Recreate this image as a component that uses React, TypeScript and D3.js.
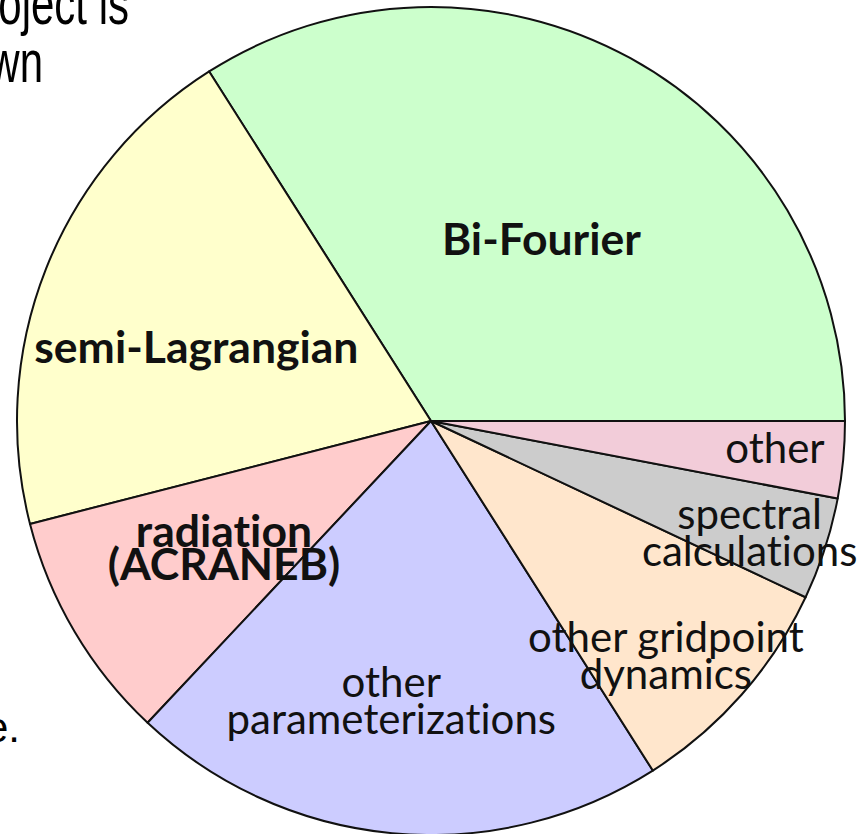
import React from "react";
import * as d3 from "d3";

// pie data: share of run time (percent), counter-clockwise from 3 o'clock
const categories = [
  "Bi-Fourier",
  "semi-Lagrangian",
  "radiation (ACRANEB)",
  "other parameterizations",
  "other gridpoint dynamics",
  "spectral calculations",
  "other",
];
const shares = [34, 20, 9, 21, 9, 4, 3];
const labelLines = [
  ["Bi-Fourier"],
  ["semi-Lagrangian"],
  ["radiation", "(ACRANEB)"],
  ["other", "parameterizations"],
  ["other gridpoint", "dynamics"],
  ["spectral", "calculations"],
  ["other"],
];
const boldLabel = [true, true, true, false, false, false, false];
const sliceColors = ["#ccffcc", "#ffffcc", "#ffcccc", "#ccccff", "#ffe6cc", "#cccccc", "#f2ccd9"];

// label placement: fraction of radius, and a small turn (deg) off the mid angle
const labelRadius = [0.506, 0.592, 0.591, 0.689, 0.808, 0.818, 0.834];
const labelTurn = [3, -4.8, -1.6, 2.6, 4, 1.8, -0.4];

// fragments of the slide text behind the chart
const slideLines = ["oject is", "wn"];
const slideTail = "e.";

const W = 861;
const H = 834;
const cx = 431;
const cy = 421;
const R = 414;

export default function App() {
  const pie = d3
    .pie<number>()
    .sort(null)
    .value((d) => d)
    .startAngle(Math.PI / 2)
    .endAngle(Math.PI / 2 - 2 * Math.PI);
  const arcs = pie(shares);
  const arc = d3.arc<d3.PieArcDatum<number>>().innerRadius(0).outerRadius(R);

  return (
    <div style={{ position: "absolute", left: 0, top: 0, width: W, height: H, background: "#fff" }}>
      <svg width={W} height={H} style={{ display: "block" }}>
        <g fontFamily="'Liberation Sans', Arial, sans-serif" fontSize={42} fill="#000" textAnchor="end">
          {slideLines.map((t, i) => (
            <text
              key={t}
              transform={`translate(${i === 0 ? 129 : 43},${24 + i * 58}) scale(1,1.42)`}
            >
              {t}
            </text>
          ))}
          <text x={20} y={742}>
            {slideTail}
          </text>
        </g>
        <g transform={`translate(${cx},${cy})`}>
          {arcs.map((a, i) => (
            <path
              key={categories[i]}
              d={arc(a) || ""}
              fill={sliceColors[i]}
              stroke="#111"
              strokeWidth={2}
              strokeLinejoin="round"
            />
          ))}
          {arcs.map((a, i) => {
            const mid = (a.startAngle + a.endAngle) / 2 + (labelTurn[i] * Math.PI) / 180;
            const r = labelRadius[i] * R;
            const x = r * Math.sin(mid);
            const y = -r * Math.cos(mid);
            const bold = boldLabel[i];
            const fs = bold ? 44.5 : 42;
            const lh = bold ? 33 : 37;
            const lines = labelLines[i];
            const y0 = y - ((lines.length - 1) * lh) / 2 + fs * 0.28;
            return (
              <text
                key={"l" + categories[i]}
                x={x}
                textAnchor="middle"
                fontFamily="Lato, 'Open Sans', sans-serif"
                fontWeight={bold ? 700 : 400}
                fontSize={fs}
                fill="#111"
                style={{ fontVariantLigatures: "none", fontFeatureSettings: '"liga" 0' }}
              >
                {lines.map((ln, j) => (
                  <tspan key={ln} x={x} y={y0 + j * lh}>
                    {ln}
                  </tspan>
                ))}
              </text>
            );
          })}
        </g>
      </svg>
    </div>
  );
}
